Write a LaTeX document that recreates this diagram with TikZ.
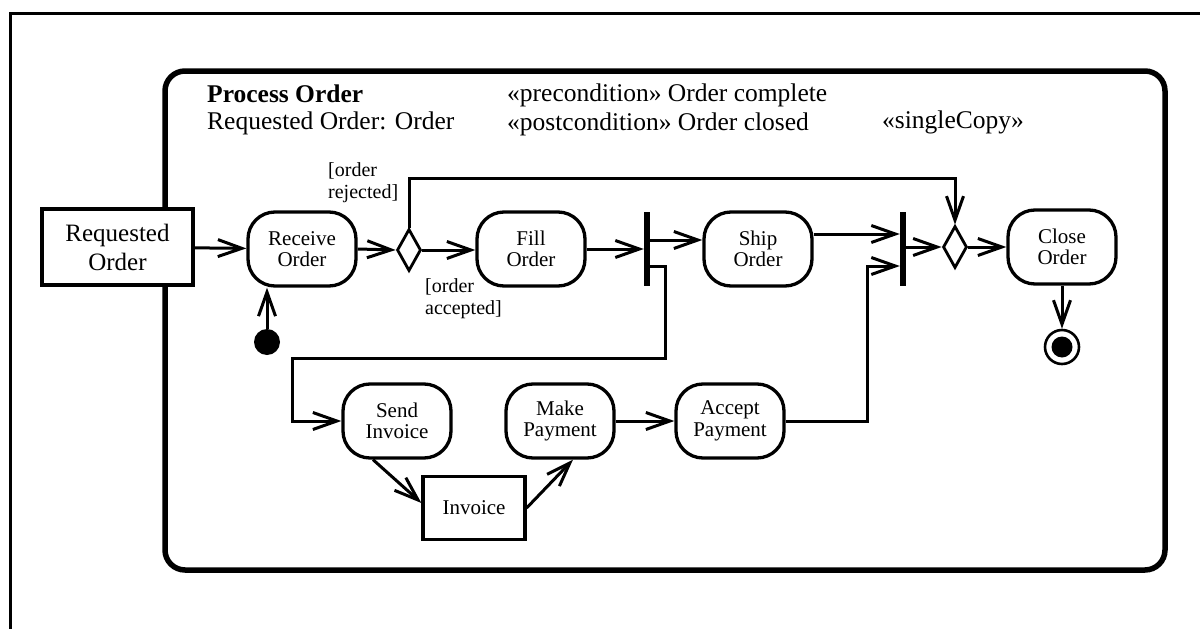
\documentclass[tikz,border=0pt]{standalone}
\usepackage{fontspec}
\setmainfont{Liberation Serif}
\usetikzlibrary{arrows.meta,shapes.geometric}
\begin{document}
\begin{tikzpicture}[x=1pt,y=-1pt,
  flow/.style={line width=3pt,-{Straight Barb[length=24pt,width=17pt]}},
  action/.style={draw,fill=white,line width=3.3pt,rounded corners=27pt,minimum width=108pt,
    minimum height=74pt,align=center,inner sep=0pt,
    font=\fontsize{21}{21.5}\selectfont},
  objbox/.style={draw,fill=white,line width=3.2pt,align=center,inner sep=0pt},
  bar/.style={fill=black,minimum width=6pt,minimum height=74pt,inner sep=0pt},
  choice/.style={draw,diamond,line width=2.8pt,minimum width=24pt,
    minimum height=42pt,inner sep=0pt},
  guard/.style={align=left,font=\fontsize{20}{22}\selectfont,inner sep=0pt,anchor=west},
  head/.style={font=\fontsize{25.5}{28}\selectfont,inner sep=0pt,anchor=base west},
]
\useasboundingbox (0,0) rectangle (1200,629);

% outer border
\draw[line width=3pt] (10,640) -- (10,13) -- (1210,13);

% activity frame
\node[draw,line width=5.5pt,rounded corners=20pt,minimum width=1000pt,
  minimum height=499pt,inner sep=0pt] (frame) at (665,320.5) {};

% activity header
\node[head] (title) at (207,102) {\textbf{Process Order}};
\node[head] (param) at (207,129) {Requested Order: Order};
\node[head] (pre) at (507,101) {«precondition» Order complete};
\node[head] (post) at (507,130) {«postcondition» Order closed};
\node[head] (single) at (882,128) {«singleCopy»};

% nodes
\node[objbox,minimum width=151pt,minimum height=76pt,
  font=\fontsize{25}{29}\selectfont] (req) at (117.5,247) {Requested\\Order};
\node[action] (rec) at (302,249) {Receive\\Order};
\node[choice] (d1) at (409,250) {};
\node[action] (fill) at (531,249) {Fill\\Order};
\node[bar] (fork) at (647,249) {};
\node[action] (ship) at (758,249) {Ship\\Order};
\node[bar] (join) at (903,249) {};
\node[choice] (d2) at (955,247) {};
\node[action] (close) at (1062,247) {Close\\Order};
\node[circle,draw,line width=2.6pt,minimum size=34pt,inner sep=0pt,
  path picture={\fill (path picture bounding box.center) circle (10.5pt);}]
  (final) at (1062,347) {};
\node[circle,fill=black,minimum size=26pt,inner sep=0pt] (init) at (267,342) {};
\node[action] (send) at (397,421) {Send\\Invoice};
\node[action] (make) at (560,421) {Make\\Payment};
\node[action] (accept) at (730,421) {Accept\\Payment};
\node[objbox,minimum width=102pt,minimum height=63pt,
  font=\fontsize{21}{22}\selectfont] (inv) at (474,508) {Invoice};

% guards
\node[guard] (rej) at (328,183) {[order\\rejected]};
\node[guard] (acc) at (425,299) {[order\\accepted]};

% routing points
\coordinate (top) at (680,178);
\coordinate (b1) at (665,358);
\coordinate (b2) at (292,358);
\coordinate (jc) at (867,266);

% flows
\draw[flow] (req) -- (rec);
\draw[flow] (init.north) -- (init.north |- rec.south);
\draw[flow] (rec.east) -- (d1.west);
\draw[flow] (d1.east) -- (fill.west |- d1.east);
\draw[flow] (d1.north) |- (top) -| (d2.north);
\draw[flow] (fill.east) -- (fork.west);
\draw[flow] ([yshift=9pt]fork.east) -- ([yshift=9pt]ship.west);
\draw[flow] ([yshift=-17pt]fork.east) -| (b1) -- (b2) |- (send.west);
\draw[flow] ([yshift=15pt]ship.east) -- ([yshift=15pt]join.west);
\draw[flow] (accept.east) -| (jc) -- ([yshift=-17pt]join.west);
\draw[flow] (join.east |- d2.west) -- (d2.west);
\draw[flow] (d2.east) -- (close.west);
\draw[flow] (close.south) -- (final.north);
\draw[flow] ([xshift=-24pt]send.south) -- ([yshift=5pt]inv.west);
\draw[flow] (inv.east) -- ([xshift=13pt]make.south);
\draw[flow] (make.east) -- (accept.west);
\end{tikzpicture}
\end{document}
